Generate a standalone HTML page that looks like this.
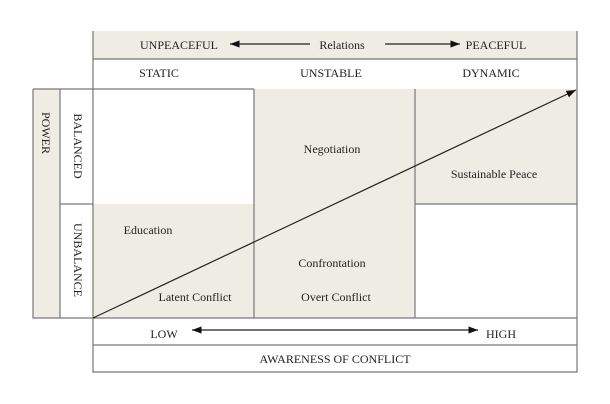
<!DOCTYPE html>
<html><head><style>
body{margin:0;background:#fff;}
svg{display:block;font-family:"Liberation Serif",serif;}
</style></head><body>
<svg width="610" height="404" viewBox="0 0 610 404" xmlns="http://www.w3.org/2000/svg">
<defs><marker id="a" markerWidth="8" markerHeight="6" refX="8" refY="3" orient="auto"><path d="M0,0 L8,3 L0,6z" fill="#111"/></marker></defs>
<g fill="#efede3">
<rect x="93" y="31" width="484" height="28"/>
<rect x="33" y="89" width="27" height="229"/>
<rect x="93" y="204" width="161" height="114"/>
<rect x="254" y="89" width="161" height="229"/>
<rect x="415" y="89" width="162" height="115"/>
</g>
<g stroke="#777" stroke-width="1.2" fill="none">
<path d="M93,31 V372 H577 V31"/>
<path d="M93,59 H577 M93,89 H254 M254,89 V318 M415,89 V318 M415,204 H577 M93,318 H577 M93,345 H577"/>
<path d="M33,89 H93 M33,89 V318 H93 M60,89 V318 M60,204 H93"/>
</g>
<g stroke="#222" stroke-width="1.2" fill="none">
<line x1="93" y1="318" x2="576" y2="90" marker-end="url(#a)"/>
<line x1="310" y1="44" x2="230" y2="44" marker-end="url(#a)"/>
<line x1="385" y1="44" x2="460" y2="44" marker-end="url(#a)"/>
<line x1="330" y1="330" x2="192" y2="330" marker-end="url(#a)"/>
<line x1="330" y1="330" x2="478" y2="330" marker-end="url(#a)"/>
</g>
<g font-size="12" fill="#222" text-anchor="middle">
<text x="179" y="49">UNPEACEFUL</text>
<text x="342" y="49">Relations</text>
<text x="496" y="49">PEACEFUL</text>
<text x="159" y="77">STATIC</text>
<text x="331" y="77">UNSTABLE</text>
<text x="491" y="77">DYNAMIC</text>
<text x="332" y="153">Negotiation</text>
<text x="494" y="178">Sustainable Peace</text>
<text x="148" y="234">Education</text>
<text x="332" y="267">Confrontation</text>
<text x="336" y="301">Overt Conflict</text>
<text x="195" y="301">Latent Conflict</text>
<text x="164" y="338">LOW</text>
<text x="501" y="338">HIGH</text>
<text x="335" y="363">AWARENESS OF CONFLICT</text>
<text transform="translate(42,133) rotate(90)">POWER</text>
<text transform="translate(74,146) rotate(90)">BALANCED</text>
<text transform="translate(74,260) rotate(90)">UNBALANCE</text>
</g>
</svg>
</body></html>
